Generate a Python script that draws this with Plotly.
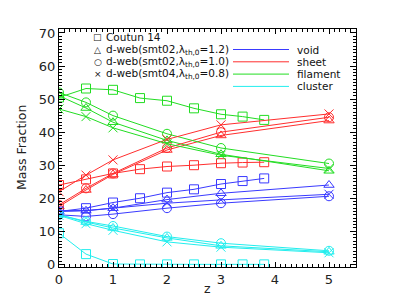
import plotly.graph_objects as go

# ---------------- data ----------------
z_coutun = [0, 0.5, 1, 1.5, 2, 2.5, 3, 3.4, 3.8]
z_dweb = [0, 0.5, 1, 2, 3, 5]

coutun_void = [16, 17, 18.7, 20, 21.7, 22.7, 24.3, 25.2, 26]
coutun_sheet = [24, 25.7, 27.5, 28.8, 29.6, 30, 30.6, 30.8, 30.9]
coutun_filament = [50.5, 53.2, 52.8, 50.3, 49.5, 47.2, 45.4, 44.7, 43.7]
coutun_cluster = [9.4, 3.1, 0.1, 0, 0, 0, 0, 0, 0]

s02_12_void = [16, 16.2, 17, 19.6, 21.5, 24]
s02_12_sheet = [17.5, 22.5, 27.2, 34.6, 39, 43.5]
s02_12_filament = [51, 47.3, 43, 37.5, 33.3, 28.3]
s02_12_cluster = [15, 12.8, 11, 8, 5.6, 3.8]

s02_10_void = [15, 14.5, 15.2, 17, 18.5, 20.6]
s02_10_sheet = [18, 23, 27.5, 35.2, 40, 44.5]
s02_10_filament = [52, 49, 45, 39.5, 35.2, 30.5]
s02_10_cluster = [15, 13, 11.6, 8.4, 6.4, 4.1]

s04_08_void = [16.2, 16.3, 17, 18.5, 19.5, 21.2]
s04_08_sheet = [22, 27, 31.6, 37.8, 42.2, 45.5]
s04_08_filament = [47, 44.7, 41.3, 36.5, 33, 29]
s04_08_cluster = [14.8, 12.3, 10.3, 6.8, 5.2, 3.5]

x_ticks = [0, 1, 2, 3, 4, 5]
y_ticks = [0, 10, 20, 30, 40, 50, 60, 70]

symbol_labels = ["Coutun 14",
                 "d-web(smt02,λ<sub>th,0</sub>=1.2)",
                 "d-web(smt02,λ<sub>th,0</sub>=1.0)",
                 "d-web(smt04,λ<sub>th,0</sub>=0.8)"]
symbol_glyphs = ["□", "△", "○", "×"]
env_labels = ["void", "sheet", "filament", "cluster"]

# ---------------- style ----------------
colors = {"void": "#3a3aff", "sheet": "#ff2e2e", "filament": "#22dd22", "cluster": "#22eeee"}
FONT = "DejaVu Sans"

sets = [
    (z_coutun, "square-open", 9,
     {"void": coutun_void, "sheet": coutun_sheet, "filament": coutun_filament, "cluster": coutun_cluster}),
    (z_dweb, "triangle-up-open", 9,
     {"void": s02_12_void, "sheet": s02_12_sheet, "filament": s02_12_filament, "cluster": s02_12_cluster}),
    (z_dweb, "circle-open", 9,
     {"void": s02_10_void, "sheet": s02_10_sheet, "filament": s02_10_filament, "cluster": s02_10_cluster}),
    (z_dweb, "x-thin-open", 9,
     {"void": s04_08_void, "sheet": s04_08_sheet, "filament": s04_08_filament, "cluster": s04_08_cluster}),
]

fig = go.Figure()
for zz, sym, size, series in sets:
    for env in ["void", "sheet", "filament", "cluster"]:
        c = colors[env]
        fig.add_trace(go.Scatter(
            x=zz, y=series[env], mode="lines+markers",
            line=dict(color=c, width=1),
            marker=dict(symbol=sym, size=size, color=c, line=dict(color=c, width=1)),
            showlegend=False, cliponaxis=True))

# the page has an 8px body margin: convert page pixels to figure pixels
OFF = 8
W, H = 415, 297
L, R, T, B = 59 - OFF, 356 - OFF, 29 - OFF, 267 - OFF
PW, PH = R - L, B - T

def px(x):
    return (x - OFF - L) / PW

def py(y):
    return (B - (y - OFF)) / PH

annotations = []
shapes = []
row0_left = 37.5
row0_right = 49.5
dy = 12.3
for i, (g, lab) in enumerate(zip(symbol_glyphs, symbol_labels)):
    yy = row0_left + i * dy
    annotations.append(dict(xref="paper", yref="paper", x=px(97.5), y=py(yy), text=g,
                            showarrow=False, xanchor="center", yanchor="middle",
                            font=dict(family=FONT, size=9, color="#111")))
    annotations.append(dict(xref="paper", yref="paper", x=px(104), y=py(yy), text=lab,
                            showarrow=False, xanchor="left", yanchor="middle",
                            font=dict(family=FONT, size=10.5, color="#111")))
for i, env in enumerate(env_labels):
    yy = row0_right + i * dy
    shapes.append(dict(type="line", xref="paper", yref="paper", x0=px(233), x1=px(289),
                       y0=py(yy), y1=py(yy), line=dict(color=colors[env], width=1)))
    annotations.append(dict(xref="paper", yref="paper", x=px(295), y=py(yy), text=env,
                            showarrow=False, xanchor="left", yanchor="middle",
                            font=dict(family=FONT, size=10.5, color="#111")))

# axis titles
annotations.append(dict(xref="paper", yref="paper", x=px(21), y=py(148), text="Mass Fraction",
                        textangle=-90, showarrow=False, xanchor="center", yanchor="middle",
                        font=dict(family=FONT, size=12.5, color="#222")))
annotations.append(dict(xref="paper", yref="paper", x=px(207), y=py(288), text="z",
                        showarrow=False, xanchor="center", yanchor="middle",
                        font=dict(family=FONT, size=12.5, color="#222")))

axis_common = dict(showline=True, linecolor="black", linewidth=1, mirror="ticks",
                   ticks="inside", tickcolor="black", tickwidth=1,
                   showgrid=False, zeroline=False, automargin=False,
                   tickfont=dict(family=FONT, size=13, color="#222"))

fig.update_layout(
    width=W, height=H,
    margin=dict(l=L, r=W - R, t=T, b=H - B, pad=0),
    plot_bgcolor="white", paper_bgcolor="white",
    font=dict(family=FONT, color="#222"),
    xaxis=dict(range=[0, 5.5], tickvals=x_ticks, ticklen=5,
               minor=dict(dtick=0.1, tick0=0, ticklen=3, ticks="inside", tickcolor="black"),
               **axis_common),
    yaxis=dict(range=[-0.8, 71.2], tickvals=y_ticks, ticklen=6,
               minor=dict(dtick=1, tick0=0, ticklen=3, ticks="inside", tickcolor="black"),
               **axis_common),
    annotations=annotations, shapes=shapes,
)

fig.write_html("out.html")
